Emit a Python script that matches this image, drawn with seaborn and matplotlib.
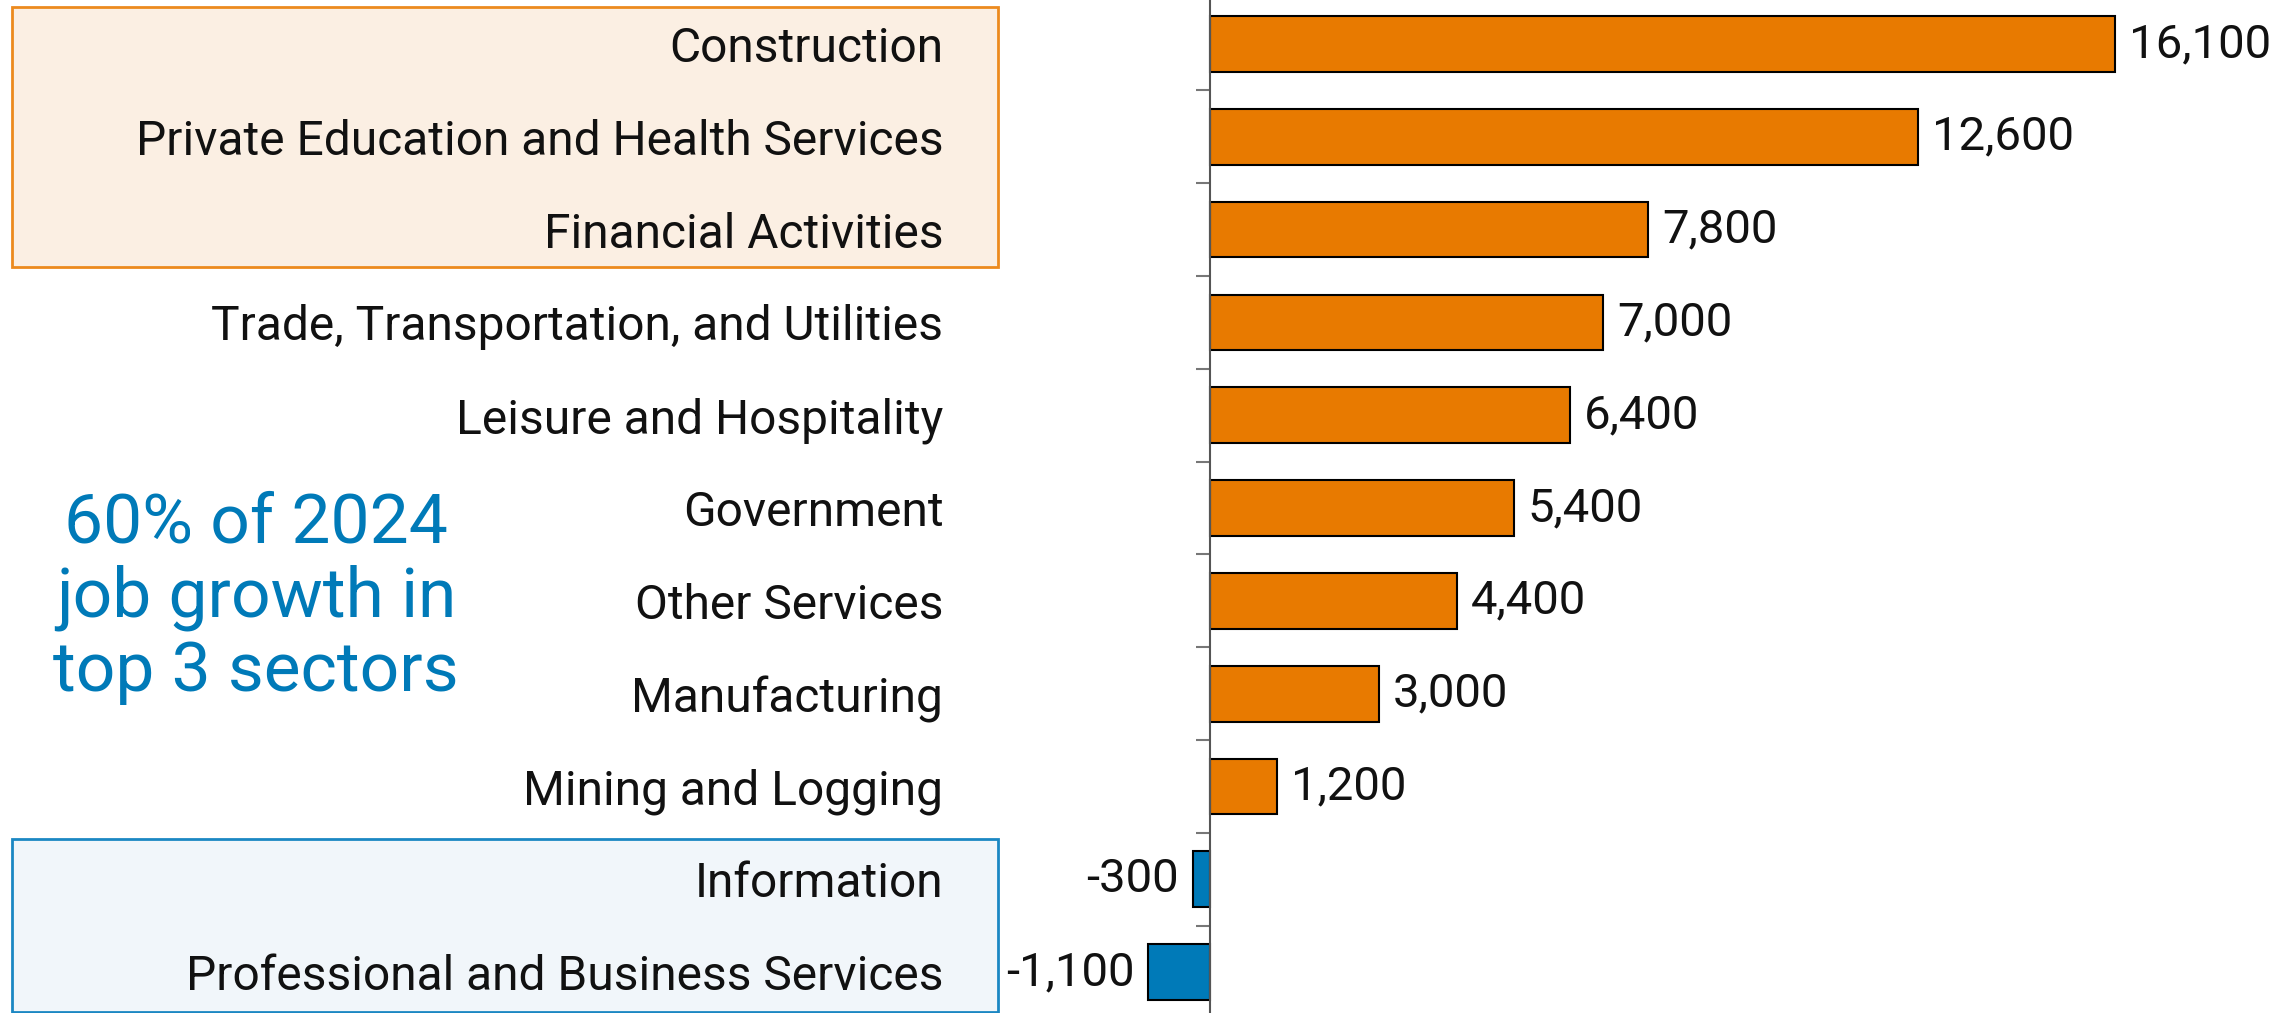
import matplotlib
matplotlib.use("Agg")
import matplotlib.pyplot as plt
import seaborn as sns
from matplotlib.patches import Rectangle

# ── Data ──────────────────────────────────────────────────────────────────────
SECTORS = [
    "Construction",
    "Private Education and Health Services",
    "Financial Activities",
    "Trade, Transportation, and Utilities",
    "Leisure and Hospitality",
    "Government",
    "Other Services",
    "Manufacturing",
    "Mining and Logging",
    "Information",
    "Professional and Business Services",
]
JOBS = [16100, 12600, 7800, 7000, 6400, 5400, 4400, 3000, 1200, -300, -1100]

ORANGE = "#E87A00"
BLUE = "#007AB8"
NOTE = "60% of 2024\njob growth in\ntop 3 sectors"

# ── Figure ────────────────────────────────────────────────────────────────────
sns.set_style("white")
plt.rcParams["font.family"] = ["Roboto", "DejaVu Sans"]

W, H, DPI = 2295, 1013, 100
fig = plt.figure(figsize=(W / DPI, H / DPI), dpi=DPI)

# highlight boxes behind the labels
fig.patches.append(Rectangle((12 / W, 1 - 267 / H), 986 / W, 260 / H,
                             transform=fig.transFigure, facecolor="#FBEFE3",
                             edgecolor="#EC8A1E", linewidth=2, zorder=0))
fig.patches.append(Rectangle((12 / W, 1 - 1012 / H), 986 / W, 173 / H,
                             transform=fig.transFigure, facecolor="#F1F6FA",
                             edgecolor="#1B87C3", linewidth=2, zorder=0))

ax = fig.add_axes([0, 0, 1, 1])
ax.set_zorder(2)
ax.patch.set_alpha(0)

colors = [ORANGE if v > 0 else BLUE for v in JOBS]
sns.barplot(x=JOBS, y=SECTORS, hue=SECTORS, palette=colors, legend=False,
            orient="h", width=0.6, edgecolor="black", linewidth=1.5,
            saturation=1, ax=ax)

# scale: 0 sits at x=1210px, 16,100 ends near 2115px
px_per_unit = 905 / 16100
ax.set_xlim(-1210 / px_per_unit, (W - 1210) / px_per_unit)
ax.set_ylim(10.44, -0.474)

for s in ["top", "right", "bottom"]:
    ax.spines[s].set_visible(False)
ax.spines["left"].set_position(("data", 0))
ax.spines["left"].set_color("#555555")
ax.spines["left"].set_linewidth(1.5)

ax.set_xticks([])
ax.set_yticks(range(len(SECTORS)))
ax.set_yticklabels(SECTORS, fontsize=34.5, color="#111111")
ax.tick_params(axis="y", which="major", left=True, length=0, pad=192)
ax.set_yticks([i + 0.5 for i in range(len(SECTORS) - 1)], minor=True)
ax.tick_params(axis="y", which="minor", left=True, length=10, width=1.5,
               color="#777777")
ax.set_xlabel("")
ax.set_ylabel("")

for cont in ax.containers:
    ax.bar_label(cont, labels=[f"{v:,.0f}" for v in cont.datavalues],
                 padding=10, fontsize=34, color="#111111")

fig.text(256 / W, 1 - 598 / H, NOTE, ha="center", va="center",
         fontsize=50, color=BLUE, linespacing=1.15)

fig.savefig("out.png", dpi=DPI)
